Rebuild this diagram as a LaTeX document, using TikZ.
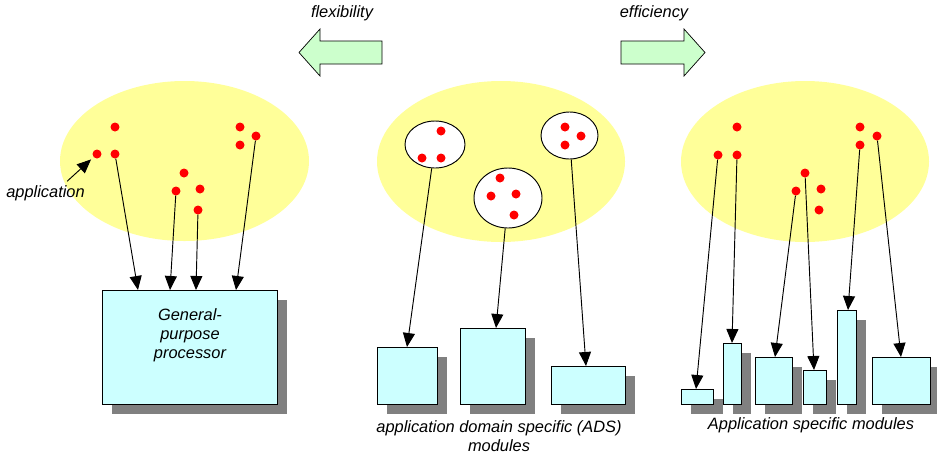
\documentclass[tikz,border=0pt]{standalone}
\usepackage{fontspec}
\setmainfont{Liberation Sans}
\usepackage{tikz}
\usetikzlibrary{
    calc,
    fit,
    arrows.meta,
    shadows,
    shapes.geometric
}
\definecolor{cloud}{HTML}{FFFF99}
\definecolor{hwcyan}{HTML}{CCFFFF}
\definecolor{gofill}{HTML}{CCFFCC}
\definecolor{shadowgray}{HTML}{808080}
\tikzset{
    every node/.style={font=\fontsize{14}{16.5}\selectfont\itshape},
    appspace/.style={ellipse, fill=cloud, inner sep=0pt},
    appdot/.style={circle, fill=red, inner sep=0pt, minimum size=2.7mm},
    appgroup/.style={ellipse, draw, fill=white, line width=0.8pt, inner sep=0pt},
    hwbox/.style={draw, fill=hwcyan, line width=0.8pt, inner sep=0pt,
        drop shadow={fill=shadowgray, opacity=1, shadow xshift=3mm, shadow yshift=-3mm}},
    conn/.style={line width=0.8pt, -{Triangle[length=4.2mm, width=3.6mm]}},
    fatarrow/.style={draw, fill=gofill, line width=0.6pt, line join=miter}
}

\begin{document}
\begin{tikzpicture}[x=0.3mm, y=-0.3mm]
    \useasboundingbox (0,0) rectangle (937,455);
    % flexibility / efficiency
    \draw[fatarrow] (382,41) -- (320,41) -- (320,29) -- (299,52.5) -- (320,76) -- (320,64) -- (382,64) -- cycle;
    \node (flex) at (342,13) {flexibility};
    \draw[fatarrow] (621,41) -- (684,41) -- (684,29) -- (705,52.5) -- (684,76) -- (684,64) -- (621,64) -- cycle;
    \node (eff) at (654,13) {efficiency};

    % general-purpose processor
    \node[appspace, minimum width=74.7mm, minimum height=48mm] (gpspace) at (184.5,161) {};
    \foreach \n/\x/\y in {1/115/127, 2/97/154, 3/115/154, 4/184/173, 5/176/191,
                          6/200/189, 7/198/210, 8/240/127, 9/256/136, 10/240/145}
        \node[appdot] (g\n) at (\x,\y) {};
    \node (applbl) at (45.5,193) {application};
    \draw[conn, shorten >=1mm] ($(applbl.north)!0.5!(applbl.north east)$) -- (g2);
    \node[hwbox, fit={(102,290) (277,404)}] (gpp) {};
    \node[anchor=north, align=center] (gpptxt) at (190,304) {General-\\purpose\\processor};
    \coordinate (gt1) at (138,290);
    \coordinate (gt2) at (170,290);
    \coordinate (gt3) at (196,290);
    \coordinate (gt4) at (236,290);
    \draw[conn] (g3) -- (gt1);
    \draw[conn] (g5) -- (gt2);
    \draw[conn] (g7) -- (gt3);
    \draw[conn] (g9) -- (gt4);

    % ADS modules
    \node[appspace, minimum width=74.4mm, minimum height=48.3mm] (adsspace) at (501,161.5) {};
    \node[appgroup, minimum width=18mm, minimum height=14.1mm] (grpA) at (435,144.5) {};
    \node[appgroup, minimum width=20.4mm, minimum height=18mm] (grpB) at (508,198) {};
    \node[appgroup, minimum width=17.1mm, minimum height=14.1mm] (grpC) at (569.5,135.5) {};
    \foreach \n/\x/\y in {1/441/131, 2/422/158, 3/441/158, 4/500/178, 5/491/196,
                          6/516/194, 7/514/215, 8/565/127, 9/581/136, 10/565/145}
        \node[appdot] (a\n) at (\x,\y) {};
    \node[hwbox, fit={(377,347) (437,404)}] (ads1) {};
    \node[hwbox, fit={(460,328) (525,404)}] (ads2) {};
    \node[hwbox, fit={(551,366) (625,404)}] (ads3) {};
    \coordinate (at1) at (407,347);
    \coordinate (at2) at (496,328);
    \coordinate (at3) at (586,366);
    \draw[conn] (grpA) -- (at1);
    \draw[conn] (grpB) -- (at2);
    \draw[conn] (grpC) -- (at3);
    \node[align=center] (adslbl) at (499,436) {application domain specific (ADS)\\modules};

    % application specific modules
    \node[appspace, minimum width=74.4mm, minimum height=48.3mm] (asspace) at (805,161.5) {};
    \foreach \n/\x/\y in {1/737/127, 2/718/155, 3/737/155, 4/805/173, 5/796/191,
                          6/821/189, 7/819/210, 8/860/127, 9/877/136, 10/860/145}
        \node[appdot] (s\n) at (\x,\y) {};
    \node[hwbox, fit={(681,389) (713,404)}] (as1) {};
    \node[hwbox, fit={(723,343) (741,404)}] (as2) {};
    \node[hwbox, fit={(755,357) (792,404)}] (as3) {};
    \node[hwbox, fit={(803,370) (826,404)}] (as4) {};
    \node[hwbox, fit={(837,310) (856,404)}] (as5) {};
    \node[hwbox, fit={(872,357) (930,404)}] (as6) {};
    \coordinate (st1) at (696,389);
    \coordinate (st2) at (732,343);
    \coordinate (st3) at (775,357);
    \coordinate (st4) at (814,370);
    \coordinate (st5) at (848,310);
    \coordinate (st6) at (901,357);
    \draw[conn] (s2) -- (st1);
    \draw[conn] (s3) -- (st2);
    \draw[conn] (s5) -- (st3);
    \draw[conn] (s4) -- (st4);
    \draw[conn] (s10) -- (st5);
    \draw[conn] (s9) -- (st6);
    \node (aslbl) at (811,425) {Application specific modules};
\end{tikzpicture}
\end{document}
